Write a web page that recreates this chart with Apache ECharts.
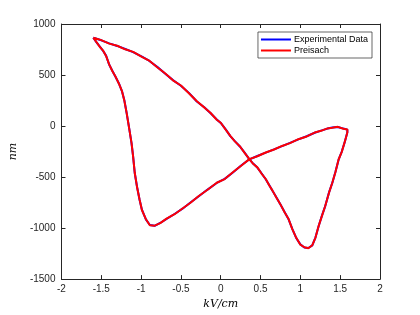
<!DOCTYPE html>
<html><head><meta charset="utf-8">
<script src="https://cdn.jsdelivr.net/npm/echarts@6/dist/echarts.min.js"></script>
<style>html,body{margin:0;padding:0;background:#fff}#c{width:420px;height:315px}</style>
</head><body><div id="c"></div>
<script>
const fieldX = [-1.60,-1.50,-1.40,-1.30,-1.20,-1.10,-0.99,-0.90,-0.79,-0.70,-0.60,-0.50,-0.40,-0.30,-0.20,-0.13,-0.05,0.00,0.06,0.12,0.18,0.24,0.30,0.36,0.41,0.46,0.51,0.565,0.61,0.65,0.70,0.75,0.80,0.85,0.90,0.95,1.00,1.05,1.10,1.15,1.19,1.23,1.27,1.31,1.36,1.40,1.44,1.48,1.52,1.56,1.59,1.59,1.54,1.47,1.40,1.34,1.26,1.18,1.08,0.975,0.87,0.77,0.67,0.565,0.46,0.36,0.26,0.16,0.05,-0.05,-0.17,-0.28,-0.38,-0.48,-0.58,-0.68,-0.76,-0.83,-0.89,-0.94,-0.99,-1.02,-1.05,-1.08,-1.10,-1.12,-1.15,-1.18,-1.21,-1.24,-1.28,-1.32,-1.36,-1.40,-1.44,-1.48,-1.52,-1.56,-1.60];
const experimentalY = [865,840,810,785,755,725,680,640,575,515,450,395,325,240,180,128,65,30,-30,-99,-150,-200,-260,-326,-370,-407,-460,-521,-580,-635,-700,-770,-840,-910,-1010,-1100,-1160,-1190,-1195,-1170,-1090,-980,-880,-790,-650,-560,-450,-330,-250,-150,-60,-35,-25,-10,-15,-25,-45,-66,-100,-131,-165,-197,-228,-261,-294,-326,-385,-450,-518,-558,-625,-690,-750,-810,-862,-910,-950,-978,-970,-915,-820,-720,-600,-460,-300,-170,-20,120,250,340,420,480,540,600,690,740,780,820,865];
const preisachY = [865,842,808,787,752,727,678,642,572,517,448,397,322,243,178,130,62,32,-33,-97,-153,-198,-263,-324,-373,-405,-463,-519,-583,-633,-703,-768,-843,-908,-1013,-1098,-1163,-1188,-1197,-1168,-1093,-978,-883,-788,-653,-558,-453,-328,-253,-148,-63,-33,-27,-8,-17,-23,-47,-64,-102,-129,-167,-195,-230,-259,-296,-324,-387,-448,-520,-556,-627,-688,-752,-808,-864,-908,-952,-976,-972,-913,-823,-718,-603,-458,-303,-168,-23,122,247,342,417,482,537,602,687,742,777,822,865];
const xTicks = [-2,-1.5,-1,-0.5,0,0.5,1,1.5,2];
const yTicks = [-1500,-1000,-500,0,500,1000];

const pairs = (xs, ys) => xs.map((x, i) => [x, ys[i]]);
const axisCol = '#262626';
const baseX = {type:'value', min:xTicks[0], max:xTicks[xTicks.length-1], interval:0.5,
  axisLine:{show:true,onZero:false,lineStyle:{color:axisCol,width:1}},
  axisTick:{show:true,inside:true,length:4,lineStyle:{color:axisCol}},
  splitLine:{show:false}};
const baseY = {type:'value', min:yTicks[0], max:yTicks[yTicks.length-1], interval:500,
  axisLine:{show:true,onZero:false,lineStyle:{color:axisCol,width:1}},
  axisTick:{show:true,inside:true,length:4,lineStyle:{color:axisCol}},
  splitLine:{show:false}};
const chart = echarts.init(document.getElementById('c'), null, {renderer:'canvas'});
chart.setOption({
  animation:false,
  backgroundColor:'#fff',
  grid:{left:55, right:40, top:24, bottom:34},
  legend:{
    orient:'vertical', right:48, top:32, padding:[3,4,3,3],
    backgroundColor:'#fff', borderColor:'#262626', borderWidth:0.7, borderRadius:0,
    itemWidth:30, itemHeight:2, itemGap:2, icon:'rect',
    textStyle:{fontFamily:'Liberation Sans, Arial', fontSize:9, color:'#000', padding:[0,0,0,-2]},
    data:['Experimental Data','Preisach']
  },
  xAxis:[
    Object.assign({}, baseX, {position:'bottom',
      name:'kV/cm', nameLocation:'middle', nameGap:15,
      nameTextStyle:{fontFamily:'DejaVu Serif, Liberation Serif, serif', fontStyle:'italic', fontSize:11, color:'#000'},
      axisLabel:{show:true, fontFamily:'Liberation Sans, Arial', fontSize:10, color:axisCol, margin:5,
        formatter:v=>String(v)}}),
    Object.assign({}, baseX, {position:'top', axisLabel:{show:false}})
  ],
  yAxis:[
    Object.assign({}, baseY, {position:'left',
      name:'nm', nameLocation:'middle', nameGap:37, nameRotate:90,
      nameTextStyle:{fontFamily:'DejaVu Serif, Liberation Serif, serif', fontStyle:'italic', fontSize:11, color:'#000'},
      axisLabel:{show:true, fontFamily:'Liberation Sans, Arial', fontSize:10, color:axisCol, margin:6,
        formatter:v=>String(v)}}),
    Object.assign({}, baseY, {position:'right', axisLabel:{show:false}})
  ],
  series:[
    {name:'Experimental Data', type:'line', data:pairs(fieldX, experimentalY), showSymbol:false,
      lineStyle:{color:'#0000ff', width:2}, itemStyle:{color:'#0000ff'}, z:2},
    {name:'Preisach', type:'line', data:pairs(fieldX, preisachY), showSymbol:false,
      lineStyle:{color:'#ff0000', width:2}, itemStyle:{color:'#ff0000'}, z:3}
  ]
});
</script></body></html>
